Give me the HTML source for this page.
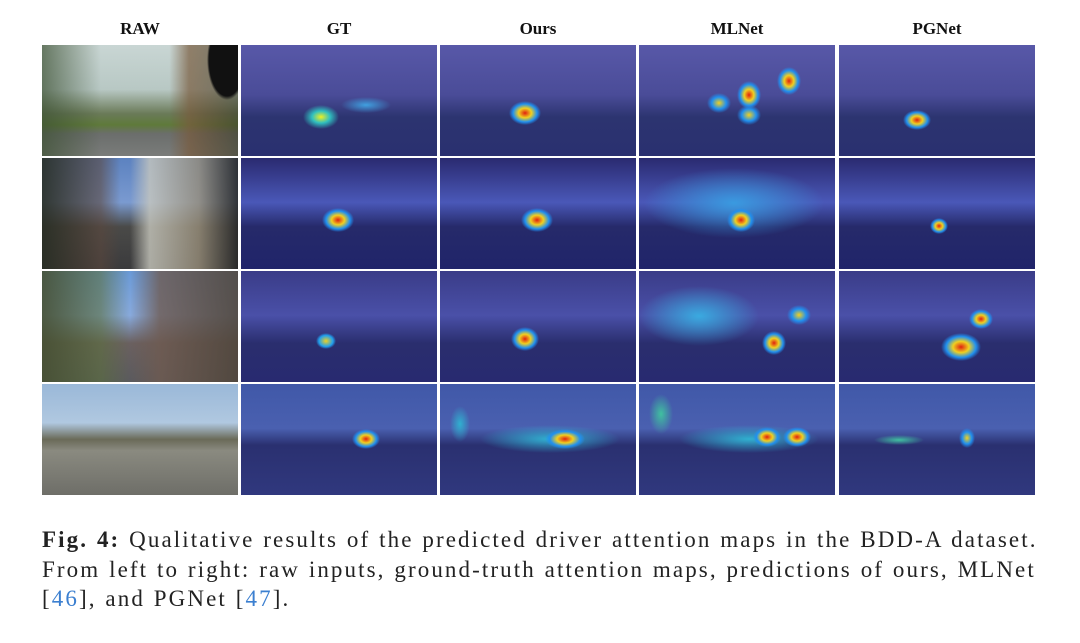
<!DOCTYPE html><html><head><style>
body{margin:0;width:1080px;height:643px;background:#fff;position:relative;overflow:hidden;font-family:"Liberation Serif",serif}
.h{position:absolute;top:19px;width:196px;text-align:center;font-weight:bold;font-size:17px;color:#111}
.c{position:absolute;width:196px;height:111px}
.cap{position:absolute;left:42px;font-size:23px;letter-spacing:2.1px;word-spacing:1px;color:#222;white-space:nowrap}
.b{color:#3b7fd0}
</style></head><body>
<div class="h" style="left:42px">RAW</div><div class="h" style="left:241px">GT</div><div class="h" style="left:440px">Ours</div><div class="h" style="left:639px">MLNet</div><div class="h" style="left:839px">PGNet</div>

<div class="c" style="left:42px;top:45px;background:radial-gradient(ellipse 20px 40px at 185px 15px,#111 90%,transparent),linear-gradient(90deg,rgba(60,80,50,.7) 0,transparent 30%,transparent 65%,rgba(120,90,60,.7) 75%,rgba(60,60,40,.6) 100%),linear-gradient(#c9d6d4 0,#b8c8c4 40%,#6a7a58 62%,#5f7a3a 72%,#6b6e6c 80%,#7a7c7a 100%)"></div>
<div class="c" style="left:42px;top:158px;background:linear-gradient(90deg,rgba(40,45,35,.9) 0,rgba(90,70,60,.6) 30%,transparent 40%,transparent 45%,rgba(200,200,190,.8) 55%,rgba(150,140,120,.8) 80%,rgba(40,40,40,.9) 100%),linear-gradient(#5c82c0 0,#7a9ad0 40%,#4a4a48 62%,#3a3a3c 100%)"></div>
<div class="c" style="left:42px;top:271px;background:linear-gradient(90deg,rgba(70,80,50,.9) 0,rgba(90,110,60,.6) 30%,transparent 45%,rgba(110,90,80,.8) 60%,rgba(80,70,60,.9) 100%),linear-gradient(#6a9ad8 0,#88aadd 40%,#6a6060 65%,#5a5a5e 100%)"></div>
<div class="c" style="left:42px;top:384px;background:linear-gradient(#9ab8d8 0,#b0c8e0 35%,#6a6a58 50%,#8a8a80 60%,#6e6e68 100%)"></div>

<div class="c" style="left:241px;top:45px;background:radial-gradient(ellipse 18px 12px at 80px 72px,#f0f020,#30c0c0 50%,transparent),radial-gradient(ellipse 25px 8px at 125px 60px,#40a0e0,transparent),linear-gradient(#5858a8 0,#4a4c98 45%,#2c3470 65%,#2a3070 100%)"></div>
<div class="c" style="left:241px;top:158px;background:radial-gradient(ellipse 16px 12px at 97px 62px,#e02010,#f0d020 40%,#2090f0 75%,transparent),linear-gradient(#2a2a70 0,#4a58b8 40%,#262a6a 62%,#20246a 100%)"></div>
<div class="c" style="left:241px;top:271px;background:radial-gradient(ellipse 10px 8px at 85px 70px,#f0d020,#20a0f0 70%,transparent),linear-gradient(#3a3c88 0,#4a50a8 40%,#2a2e6e 65%,#282a70 100%)"></div>
<div class="c" style="left:241px;top:384px;background:radial-gradient(ellipse 14px 10px at 125px 55px,#e02010,#f0d020 40%,#2090f0 75%,transparent),linear-gradient(#4058a8 0,#4a60b0 40%,#2a3070 55%,#30387e 100%)"></div>

<div class="c" style="left:440px;top:45px;background:radial-gradient(ellipse 16px 12px at 85px 68px,#e02010,#f0d020 40%,#2090f0 75%,transparent),linear-gradient(#5858a8 0,#4a4c98 45%,#2c3470 65%,#2a3070 100%)"></div>
<div class="c" style="left:440px;top:158px;background:radial-gradient(ellipse 16px 12px at 97px 62px,#e02010,#f0d020 40%,#2090f0 75%,transparent),linear-gradient(#2a2a70 0,#4a58b8 40%,#262a6a 62%,#20246a 100%)"></div>
<div class="c" style="left:440px;top:271px;background:radial-gradient(ellipse 14px 12px at 85px 68px,#e02010,#f0d020 40%,#2090f0 75%,transparent),linear-gradient(#3a3c88 0,#4a50a8 40%,#2a2e6e 65%,#282a70 100%)"></div>
<div class="c" style="left:440px;top:384px;background:radial-gradient(ellipse 20px 10px at 125px 55px,#e02010,#f0d020 40%,#2090f0 75%,transparent),radial-gradient(ellipse 70px 14px at 110px 55px,#30b0d0,transparent),radial-gradient(ellipse 10px 18px at 20px 40px,#30b0d0,transparent),linear-gradient(#4058a8 0,#4a60b0 40%,#2a3070 55%,#30387e 100%)"></div>

<div class="c" style="left:639px;top:45px;background:radial-gradient(ellipse 12px 14px at 150px 36px,#e02010,#f0d020 40%,#2090f0 75%,transparent),radial-gradient(ellipse 12px 14px at 110px 50px,#e02010,#f0d020 40%,#2090f0 75%,transparent),radial-gradient(ellipse 12px 10px at 110px 70px,#f0d020,#2090f0 60%,transparent),radial-gradient(ellipse 12px 10px at 80px 58px,#f0d020,#2090f0 60%,transparent),linear-gradient(#5858a8 0,#4a4c98 45%,#2c3470 65%,#2a3070 100%)"></div>
<div class="c" style="left:639px;top:158px;background:radial-gradient(ellipse 14px 12px at 102px 62px,#e02010,#f0d020 40%,#2090f0 75%,transparent),radial-gradient(ellipse 90px 35px at 95px 45px,#3a9ae0,transparent),linear-gradient(#2a2a70 0,#4a58b8 40%,#262a6a 62%,#20246a 100%)"></div>
<div class="c" style="left:639px;top:271px;background:radial-gradient(ellipse 12px 12px at 135px 72px,#e02010,#f0d020 40%,#2090f0 75%,transparent),radial-gradient(ellipse 12px 10px at 160px 44px,#f0d020,#2090f0 60%,transparent),radial-gradient(ellipse 60px 30px at 60px 45px,#3aaae0,transparent),linear-gradient(#3a3c88 0,#4a50a8 40%,#2a2e6e 65%,#282a70 100%)"></div>
<div class="c" style="left:639px;top:384px;background:radial-gradient(ellipse 14px 10px at 128px 53px,#e02010,#f0d020 40%,#2090f0 75%,transparent),radial-gradient(ellipse 14px 10px at 158px 53px,#e02010,#f0d020 40%,#2090f0 75%,transparent),radial-gradient(ellipse 70px 14px at 110px 55px,#30b0d0,transparent),radial-gradient(ellipse 12px 20px at 22px 30px,#40c0a0,transparent),linear-gradient(#4058a8 0,#4a60b0 40%,#2a3070 55%,#30387e 100%)"></div>

<div class="c" style="left:839px;top:45px;background:radial-gradient(ellipse 14px 10px at 78px 75px,#e02010,#f0d020 40%,#2090f0 75%,transparent),linear-gradient(#5858a8 0,#4a4c98 45%,#2c3470 65%,#2a3070 100%)"></div>
<div class="c" style="left:839px;top:158px;background:radial-gradient(ellipse 9px 8px at 100px 68px,#e02010,#f0d020 40%,#2090f0 75%,transparent),linear-gradient(#2a2a70 0,#4a58b8 40%,#262a6a 62%,#20246a 100%)"></div>
<div class="c" style="left:839px;top:271px;background:radial-gradient(ellipse 20px 14px at 122px 76px,#e02010,#f0d020 40%,#2090f0 75%,transparent),radial-gradient(ellipse 12px 10px at 142px 48px,#e02010,#f0d020 40%,#2090f0 75%,transparent),linear-gradient(#3a3c88 0,#4a50a8 40%,#2a2e6e 65%,#282a70 100%)"></div>
<div class="c" style="left:839px;top:384px;background:radial-gradient(ellipse 8px 10px at 128px 54px,#f0d020,#2090f0 60%,transparent),radial-gradient(ellipse 25px 5px at 60px 56px,#40c0a0,transparent),linear-gradient(#4058a8 0,#4a60b0 40%,#2a3070 55%,#30387e 100%)"></div>

<div class="cap" style="top:527px"><b>Fig. 4:</b> Qualitative results of the predicted driver attention maps in the BDD-A dataset.</div>
<div class="cap" style="top:557px">From left to right: raw inputs, ground-truth attention maps, predictions of ours, MLNet</div>
<div class="cap" style="top:586px">[<span class="b">46</span>], and PGNet [<span class="b">47</span>].</div>
</body></html>
